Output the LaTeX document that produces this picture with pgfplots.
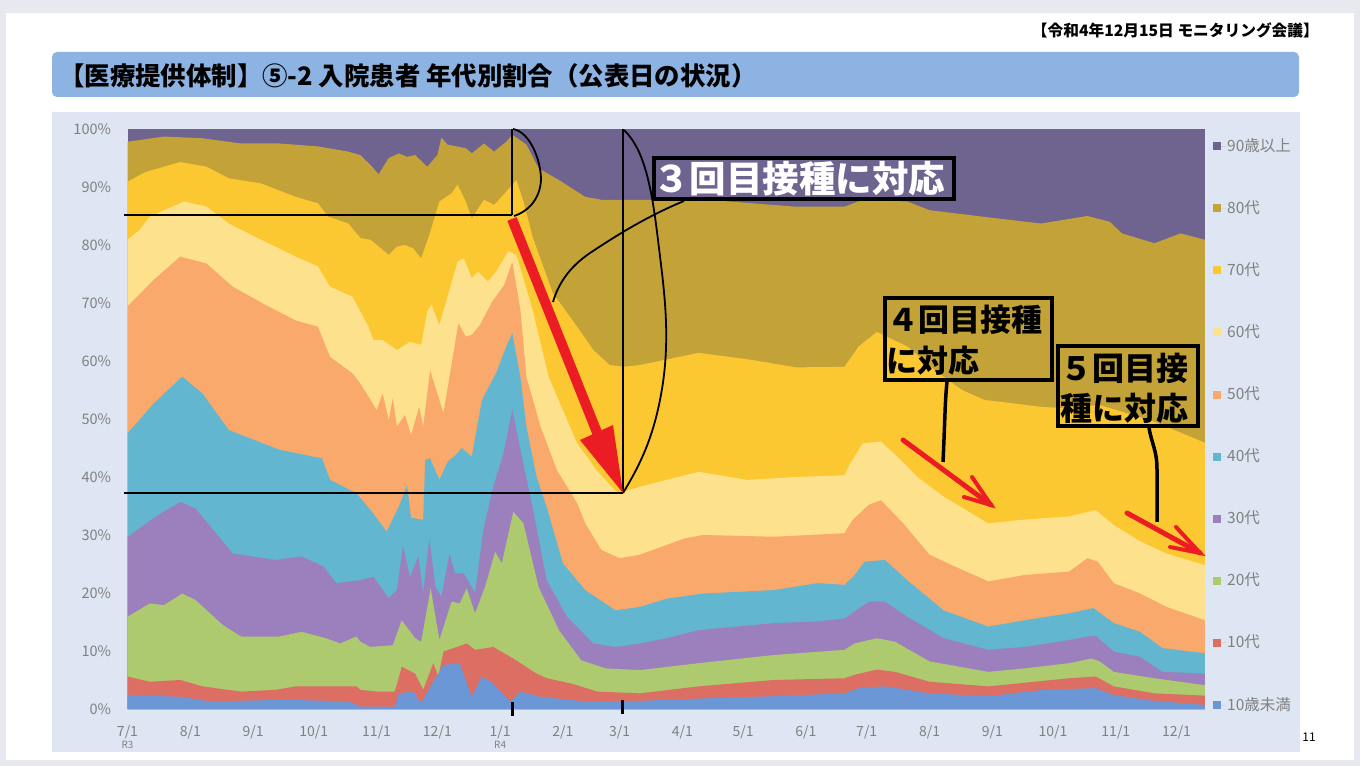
\documentclass[border=0pt]{standalone}
\usepackage{fontspec}
\usepackage{pgfplots}
\pgfplotsset{compat=1.18}
\setmainfont{Noto Sans CJK JP}

\definecolor{c90}{HTML}{6F6390}
\definecolor{c80}{HTML}{C3A337}
\definecolor{c70}{HTML}{FCC832}
\definecolor{c60}{HTML}{FEE18C}
\definecolor{c50}{HTML}{F9A96C}
\definecolor{c40}{HTML}{62B6CF}
\definecolor{c30}{HTML}{9C80BD}
\definecolor{c20}{HTML}{AECA6E}
\definecolor{c10}{HTML}{DC6E64}
\definecolor{c00}{HTML}{6C97D6}
\definecolor{panel}{HTML}{DDE6F2}
\definecolor{band}{HTML}{8DB3E2}
\definecolor{tickgray}{HTML}{808080}
\definecolor{arrowred}{HTML}{EC1C24}
\definecolor{outer}{HTML}{E8E8F0}

\newcommand{\fs}[1]{\fontsize{#1}{#1}\selectfont}

\begin{document}
\begin{tikzpicture}[x=1pt,y=1pt]
\path[use as bounding box] (0,0) rectangle (1360,766);
\fill[outer] (0,0) rectangle (1360,766);
\fill[white] (6,6) rectangle (1354,753);
% blue panels and title band
\begin{scope}[shift={(0,766)},y=-1pt]
\fill[panel] (52,112) rectangle (1300,752);
\fill[band,rounded corners=5pt] (52,52) rectangle (1299,97);
\node[anchor=west,inner sep=0pt] at (59,76) {\fs{25.4}\bfseries 【医療提供体制】⑤-2 入院患者 年代別割合（公表日の状況）};
\node[anchor=east,inner sep=0pt] at (1319,30) {\fs{15.7}\bfseries 【令和4年12月15日 モニタリング会議】};
\node[anchor=center,inner sep=0pt] at (1309,737) {\fs{12}11};
\end{scope}

\begin{axis}[
    at={(127.5pt,57pt)},anchor=south west,
    scale only axis,width=1077.5pt,height=580pt,
    xmin=0,xmax=532,ymin=0,ymax=100,
    axis line style={draw=none},
    major tick length=0pt,
    xtick={0,31,62,92,123,153,184,215,243,274,304,335,365,396,427,457,488,518},
    xticklabels={{7/1\\[-2pt]{\fs{10}R3}},8/1,9/1,10/1,11/1,12/1,{1/1\\[-2pt]{\fs{10}R4}},2/1,3/1,4/1,5/1,6/1,7/1,8/1,9/1,10/1,11/1,12/1},
    x tick label style={font=\fs{14},text=tickgray,align=center,yshift=-13pt},
    ytick={0,10,...,100},
    yticklabel={\pgfmathprintnumber{\tick}\%},
    y tick label style={font=\fs{14.5},text=tickgray,/pgf/number format/assume math mode=true,xshift=-13pt},
    legend image code/.code={\path[#1] (0pt,-4pt) rectangle (8pt,4pt); \path (0pt,0pt)--(13.5pt,0pt);},
    legend cell align=left,
    legend style={at={(1.0042,0.988)},anchor=north west,draw=none,fill=none,
        font=\fs{15.5},text=tickgray,row sep=46.1pt,
        nodes={inner sep=1pt,text height=12pt,text depth=2pt}},
]
% each series: upper edge of its band, percent
\addplot[fill=c90,draw=none] coordinates {(0,100)(532,100)} \closedcycle;
\addlegendentry{90歳以上}
\addplot[fill=c80,draw=none] coordinates {
(0,97.8)(18,98.7)(37,98.4)(56,97.5)(75,97.5)(94,97)(109,96.1)(115,95.5)(120,93.8)(124,92.2)(129,95)(134,95.8)(138,95.2)(142,95.5)(148,93.5)(153,95.5)(155,98.5)(158,97.3)(167,96.7)(170,95.8)(176,97.5)(181,96.1)(187,97.8)(190,99)(197,97.3)(203,93.2)(213,91.2)(226,88.3)(234,87.8)(253,87.8)(286,87.8)(330,86.6)(354,86.6)(363,87.8)(385,87.5)(396,86)(429,84.6)(451,83.7)(474,85)(485,84)(491,82)(507,80.3)(520,82)(532,80.9)
} \closedcycle;
\addlegendentry{80代}
\addplot[fill=c70,draw=none] coordinates {
(0,90.9)(9,92.6)(26,94.3)(39,93.5)(50,91.5)(66,90.6)(83,88.3)(94,87.2)(99,84.9)(109,83.7)(115,81.2)(120,80.9)(129,78.3)(133,79.7)(137,80)(141,79.4)(145,77.7)(149,81.7)(154,87.5)(160,88.9)(163,90.4)(167,87.5)(170,84.6)(176,87.8)(181,86.9)(187,89.2)(192,91.2)(195.5,87.5)(200,81.4)(210,71.7)(222,65.9)(230,61.9)(238,59.3)(245,59)(253,59.3)(282,61.4)(308,60.2)(330,58.9)(354,59)(361,62.5)(370,65)(385,62.5)(400,58)(412,55)(423,53.3)(451,52.1)(461,51.9)(480,52.4)(505,49.8)(532,45.9)
} \closedcycle;
\addlegendentry{70代}
\addplot[fill=c60,draw=none] coordinates {
(0,80.9)(6,82.6)(11,84.9)(28,87.5)(39,86.6)(50,83.7)(66,80.9)(83,78)(94,76.3)(100,72.8)(111,71.1)(119,65.9)(121.4,63.6)(126,63.6)(133,61.9)(139.5,63.3)(145,62.8)(148,68.5)(150,69.7)(154,66.2)(163,77.1)(166,77.7)(170,74.3)(173,75.4)(178,73.7)(182,75.4)(188,78.9)(192,78.3)(200,68.8)(208,57.2)(222,45.8)(232,41)(242,37.2)(253,38.3)(266,39.5)(282,40.9)(306,39.5)(330,40)(354,40.3)(357,42.4)(363,45.8)(372,46.1)(381,43.2)(390,40)(403,36.6)(425,32)(441,32.6)(465,33.2)(478,34.3)(487,31.7)(500,28.9)(513,26.8)(532,24.8)
} \closedcycle;
\addlegendentry{60代}
\addplot[fill=c50,draw=none] coordinates {
(0,69.4)(13,74)(26,78)(39,76.8)(52,72.8)(68,69.7)(83,67)(94,65.9)(100,60.7)(111,57.9)(115,56.1)(120,53.3)(123,51.5)(126,54.4)(129,49.8)(131,53.6)(133,48.7)(137,50.7)(140,47.2)(144,52.1)(146,48.7)(149.4,58.4)(156,51)(162,63.6)(163.4,66.5)(167,64.2)(170,64.5)(174,66.2)(180,70.2)(186,73.1)(190,77.1)(194,68.8)(197,57.2)(204,48.6)(212,41.2)(222,35.5)(226,32)(234,27.4)(243,26)(253,26.6)(275,29.4)(284,30)(319,29.7)(354,30.3)(358,32.6)(366,35.2)(372,36)(383,32)(396,26.6)(407,24.8)(425,22)(443,23.1)(465,23.7)(474,26)(479,25.4)(487,21.7)(500,19.9)(513,17.6)(532,15.3)
} \closedcycle;
\addlegendentry{50代}
\addplot[fill=c40,draw=none] coordinates {
(0,47.5)(13,52.7)(27,57.3)(37,54.4)(50,48.1)(75,44.7)(96,43.2)(100,39.5)(113,37.2)(120,34.3)(128,30.6)(134,34.9)(138,38.6)(140,33)(146,32.6)(147,42.9)(149.4,43.2)(154,39.5)(158,42.6)(163,44.1)(165,45)(170,43.5)(175,53.3)(182,57.9)(187,62.5)(190,64.8)(194,57.2)(197,48.6)(202,40)(207,34.8)(215,25.1)(226,20.5)(241,17)(253,17.6)(266,19)(284,19.9)(319,20.5)(341,21.7)(354,21.4)(359,23.1)(364,25.4)(374,25.7)(385,22.2)(403,17)(425,14.2)(443,15.3)(465,16.5)(477,17.4)(487,14.8)(500,13.3)(511,10.5)(532,9.6)
} \closedcycle;
\addlegendentry{40代}
\addplot[fill=c30,draw=none] coordinates {
(0,29.7)(15,33.4)(26,35.7)(33.5,34.6)(52,26.8)(73,25.7)(86,26.3)(97,24.5)(103,21.7)(115,22.2)(121.4,22.8)(129,19.1)(133,20.5)(136,28)(139.5,22.8)(143.6,26.3)(146,20)(149,29.4)(152,21.1)(155,19.4)(159,26.8)(161.7,23.4)(166,23.4)(171.6,20)(175.7,30.9)(180.6,38.3)(185.6,44)(190,51.6)(195,43)(200,34.8)(207,22.2)(217,15.9)(230,11.3)(241,10.7)(253,11.3)(266,12.2)(282,13.6)(319,14.8)(341,15.1)(354,15.6)(359,16.8)(366,18.5)(374,18.5)(385,15.9)(403,12.2)(425,10.2)(443,10.7)(465,11.9)(474,12.5)(478,12.6)(487,9.9)(500,9)(511,6.4)(532,6.1)
} \closedcycle;
\addlegendentry{30代}
\addplot[fill=c20,draw=none] coordinates {
(0,15.9)(11,18.2)(18,17.9)(27,19.9)(33.5,18.8)(47,14.5)(56,12.5)(75,12.5)(86,13.3)(98,12.2)(105,11.3)(113,12.5)(115,11.6)(120,10.7)(131,11)(135.4,15.3)(142,12.2)(145,11.6)(149.7,20.8)(154,11.9)(160,18.5)(164,18.2)(167.5,20.8)(171.6,16.5)(176.5,21)(181.5,27.1)(184.8,25.1)(190.5,34)(195.5,32)(203,21)(213,13.6)(224,8.4)(236,7)(253,6.7)(282,7.9)(319,9.3)(354,10.2)(359,11.3)(370,12.2)(379,11.6)(396,8.2)(425,6.4)(443,7)(465,7.9)(476,8.7)(480,8.2)(487,6.4)(507,5.3)(532,4.1)
} \closedcycle;
\addlegendentry{20代}
\addplot[fill=c10,draw=none] coordinates {
(0,5.6)(11,4.7)(26,5)(37,3.9)(56,3)(73,3.3)(83,3.9)(113,3.9)(115,3.3)(123,3)(132,3)(135.4,7.3)(142,6.1)(146,3.3)(151,7.9)(153.5,5.6)(156,9.9)(167.5,11.3)(171.6,10.2)(180.6,10.7)(190.5,8.7)(202,6.1)(207,5.3)(219,4.4)(232,3)(253,2.7)(282,3.9)(319,5)(354,5.3)(359,5.9)(370,6.8)(379,6.4)(396,4.7)(425,3.9)(465,5.3)(478,5.6)(487,3.9)(507,2.7)(532,2.3)
} \closedcycle;
\addlegendentry{10代}
\addplot[fill=c00,draw=none] coordinates {
(0,2.4)(26,2.1)(41,1.3)(79,1.6)(109,1.3)(115,0.4)(132,0.4)(134,2.7)(141,3)(145,1)(149.4,3.8)(156,7.6)(164,7.9)(170,2.1)(175,5.6)(180.6,4.4)(189,1.3)(194,3)(203.7,2.1)(226,1.3)(253,1.4)(282,1.8)(319,2.2)(354,2.7)(361,3.6)(374,3.9)(396,2.7)(425,2.2)(452,3.3)(478,3.6)(487,2.4)(507,1.4)(532,0.7)
} \closedcycle;
\addlegendentry{10歳未満}
\end{axis}

% hand drawn marks on top of the chart, in picture pixels
\begin{scope}[shift={(0,766)},y=-1pt]
\draw[black,line width=2.6pt] (124,215)--(512,215);
\draw[black,line width=2.6pt] (124,493)--(623,493);
\draw[black,line width=2.2pt] (512,129)--(512,215);
\draw[black,line width=2.2pt] (623,129)--(623,493);
\draw[black,line width=3pt] (512,702)--(512,716);
\draw[black,line width=3pt] (622,700)--(622,714);
\draw[black,line width=1.8pt] (513,129) .. controls (530,132) and (541,160) .. (541,180) .. controls (540,200) and (527,212) .. (514,216);
\draw[black,line width=1.8pt] (624,130) .. controls (645,150) and (652,190) .. (658,240)
   .. controls (664,290) and (672,340) .. (660,400) .. controls (652,440) and (640,465) .. (623,493);
\draw[black,line width=1.8pt] (553,302) .. controls (558,285) and (568,268) .. (590,253)
   .. controls (620,233) and (650,215) .. (684,201);
\draw[arrowred,line width=10pt] (512,219)--(600,440);
\fill[arrowred] (580,440)--(613,425)--(623,493)--cycle;
\draw[arrowred,line width=5pt,line cap=round] (903,440)--(991,505);
\draw[arrowred,line width=4pt,line cap=round] (972,477)--(991,505)--(964,497);
\draw[arrowred,line width=5pt,line cap=round] (1127,513)--(1200,553);
\draw[arrowred,line width=4pt,line cap=round] (1176,527)--(1200,553)--(1170,547);
\draw[black,line width=3.5pt] (947,382) .. controls (945,400) and (945,420) .. (943,462);
\draw[black,line width=3.5pt] (1149,428) .. controls (1152,445) and (1157,450) .. (1157,470)--(1157,522);
\draw[black,line width=3.5pt] (654,158) rectangle (954,199);
\draw[black,line width=3.5pt] (885,298) rectangle (1052,380);
\draw[black,line width=3.5pt] (1058,346) rectangle (1198,426);
\node[anchor=west,inner sep=0pt,text=white] at (653,179) {\fs{36.5}\bfseries ３回目接種に対応};
\node[anchor=west,inner sep=0pt] at (887,320) {\fs{31}\bfseries ４回目接種};
\node[anchor=west,inner sep=0pt] at (886,361) {\fs{31}\bfseries に対応};
\node[anchor=west,inner sep=0pt] at (1060,368) {\fs{32}\bfseries ５回目接};
\node[anchor=west,inner sep=0pt] at (1060,408) {\fs{32}\bfseries 種に対応};
\end{scope}
\end{tikzpicture}
\end{document}
